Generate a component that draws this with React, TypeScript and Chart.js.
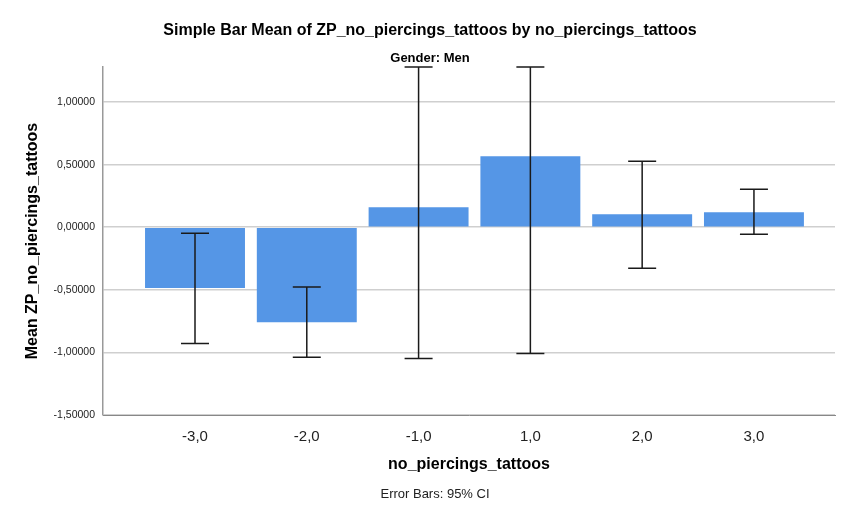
import React, { useEffect, useRef } from "react";
import { Chart, registerables } from "chart.js";

Chart.register(...registerables);

const categories = ["-3,0", "-2,0", "-1,0", "1,0", "2,0", "3,0"];
const means = [-0.485, -0.76, 0.16, 0.568, 0.104, 0.12];
const ciLow = [-0.928, -1.038, -1.048, -1.008, -0.328, -0.056];
const ciHigh = [-0.048, -0.477, 1.28, 1.28, 0.528, 0.304];
const yTicks = [-1.5, -1.0, -0.5, 0.0, 0.5, 1.0];

const FONT = "'Liberation Sans', Arial, sans-serif";

const errorBarPlugin = {
  id: "errorBars",
  afterDatasetsDraw(chart: any) {
    const meta = chart.getDatasetMeta(0);
    const y = chart.scales.y;
    const ctx = chart.ctx;
    ctx.save();
    ctx.strokeStyle = "#1a1a1a";
    ctx.lineWidth = 1.5;
    meta.data.forEach((bar: any, i: number) => {
      const x = bar.x;
      const yl = y.getPixelForValue(ciLow[i]);
      const yh = y.getPixelForValue(ciHigh[i]);
      ctx.beginPath();
      ctx.moveTo(x, yl);
      ctx.lineTo(x, yh);
      ctx.moveTo(x - 14, yl);
      ctx.lineTo(x + 14, yl);
      ctx.moveTo(x - 14, yh);
      ctx.lineTo(x + 14, yh);
      ctx.stroke();
    });
    ctx.restore();
  },
};

const footnotePlugin = {
  id: "footnote",
  afterDraw(chart: any) {
    const ctx = chart.ctx;
    ctx.save();
    ctx.fillStyle = "#222";
    ctx.font = `13px ${FONT}`;
    ctx.textAlign = "center";
    ctx.textBaseline = "middle";
    ctx.fillText("Error Bars: 95% CI", 435, 494);
    ctx.restore();
  },
};

export default function App() {
  const ref = useRef<HTMLCanvasElement>(null);
  useEffect(() => {
    document.body.style.margin = "0";
    const chart = new Chart(ref.current!, {
      type: "bar",
      data: {
        datasets: [
          {
            data: means.map((v, i) => ({ x: i, y: v })),
            backgroundColor: "#5596e6",
            borderWidth: 0,
            categoryPercentage: 1,
            barPercentage: 0.894,
          },
        ],
      },
      options: {
        animation: false,
        responsive: false,
        layout: { padding: { top: 0, right: 25, bottom: 40, left: 25 } },
        plugins: {
          legend: { display: false },
          tooltip: { enabled: false },
          title: {
            display: true,
            text: "Simple Bar Mean of ZP_no_piercings_tattoos by no_piercings_tattoos",
            color: "#000",
            font: { family: FONT, size: 16, weight: "bold" },
            padding: { top: 21, bottom: 0 },
          },
          subtitle: {
            display: true,
            text: "Gender: Men",
            color: "#000",
            font: { family: FONT, size: 13, weight: "bold" },
            padding: { top: 10, bottom: 1.2 },
          },
        },
        scales: {
          x: {
            type: "linear",
            offset: false,
            min: -0.823,
            max: 5.725,
            afterBuildTicks: (scale: any) => {
              scale.ticks = categories.map((_, i) => ({ value: i }));
            },
            afterFit: (scale: any) => {
              scale.height = 63;
            },
            grid: { display: false, drawTicks: false, offset: false },
            border: { display: true, color: "#888", width: 1 },
            ticks: {
              padding: 13,
              color: "#222",
              font: { family: FONT, size: 15 },
              callback: (v: any) => categories[v] ?? "",
            },
            title: {
              display: true,
              text: "no_piercings_tattoos",
              color: "#000",
              font: { family: FONT, size: 16, weight: "bold" },
              padding: { top: 0, bottom: 3.5 },
            },
          },
          y: {
            type: "linear",
            min: -1.5,
            max: 1.28,
            afterBuildTicks: (scale: any) => {
              scale.ticks = yTicks.map((v) => ({ value: v }));
            },
            afterFit: (scale: any) => {
              scale.width = 78;
            },
            grid: { color: "#cfcfcf", lineWidth: 1.5, drawTicks: false },
            border: { display: true, color: "#999", width: 1.5 },
            ticks: {
              padding: 8,
              color: "#222",
              font: { family: FONT, size: 10.5 },
              callback: (v: any) => Number(v).toFixed(5).replace(".", ","),
            },
            title: {
              display: true,
              text: "Mean ZP_no_piercings_tattoos",
              color: "#000",
              font: { family: FONT, size: 16, weight: "bold" },
              padding: { top: -2, bottom: 0 },
            },
          },
        },
      },
      plugins: [errorBarPlugin, footnotePlugin],
    } as any);
    return () => chart.destroy();
  }, []);
  return (
    <div style={{ width: 860, height: 518, background: "#fff" }}>
      <canvas ref={ref} width={860} height={518} style={{ display: "block" }} />
    </div>
  );
}
